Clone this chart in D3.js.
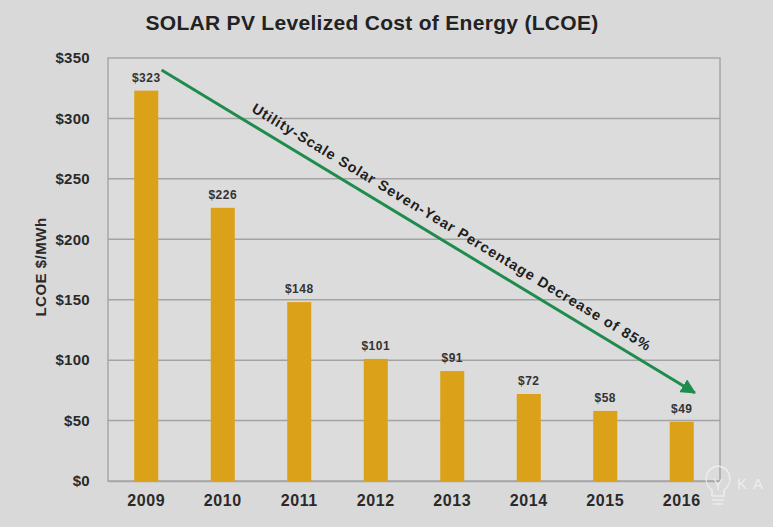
<!DOCTYPE html>
<html><head><meta charset="utf-8">
<script src="https://cdn.jsdelivr.net/npm/d3@7"></script>
<style>
html,body{margin:0;padding:0;background:#d9d9d9;}
svg{display:block;font-family:Arial,"Liberation Sans",Helvetica,sans-serif;}
</style></head>
<body>
<script>
const years = ["2009","2010","2011","2012","2013","2014","2015","2016"];
const lcoe = [323, 226, 148, 101, 91, 72, 58, 49];
const yTicks = [0, 50, 100, 150, 200, 250, 300, 350];
const title = "SOLAR PV Levelized Cost of Energy (LCOE)";
const yTitle = "LCOE $/MWh";
const arrowLabel = "Utility-Scale Solar Seven-Year Percentage Decrease of 85%";
// arrow endpoints in (band-index, value) units
const arrowFrom = [0.70, 340];
const arrowTo = [7.67, 73];

const W = 773, H = 527;
const m = {left:108, right:53, top:58, bottom:46};
const svg = d3.select("body").append("svg").attr("width", W).attr("height", H);
svg.append("rect").attr("width", W).attr("height", H).attr("fill", "#d9d9d9");

const x = d3.scaleBand().domain(years).range([m.left, W - m.right]).paddingInner(0.686).paddingOuter(0.343);
const y = d3.scaleLinear().domain([0, 350]).range([H - m.bottom, m.top]);
const xi = d3.scaleLinear().domain([0, years.length]).range([m.left, W - m.right]);

// plot bg
svg.append("rect").attr("x", m.left).attr("y", m.top)
  .attr("width", W - m.left - m.right).attr("height", H - m.top - m.bottom)
  .attr("fill", "#dcdcdc").attr("stroke", "#a6a6a6").attr("stroke-width", 1.5);

// gridlines
svg.append("g").selectAll("line").data(yTicks.filter(d => d > 0 && d < 350)).join("line")
  .attr("x1", m.left).attr("x2", W - m.right)
  .attr("y1", d => y(d)).attr("y2", d => y(d))
  .attr("stroke", "#a3a3a3").attr("stroke-width", 1.5);

// y axis
const yAxis = svg.append("g").attr("transform", `translate(${m.left},0)`)
  .call(d3.axisLeft(y).tickValues(yTicks).tickFormat(d => "$" + d).tickSize(0).tickPadding(18));
yAxis.select(".domain").remove();
yAxis.selectAll("text").attr("font-size", 15).attr("font-weight", "bold").attr("fill", "#2a2a2a")
  .attr("letter-spacing", 0.3).attr("font-family", "Arial, Liberation Sans, sans-serif");

// x axis
const xAxis = svg.append("g").attr("transform", `translate(0,${H - m.bottom})`)
  .call(d3.axisBottom(x).tickSize(0).tickPadding(14));
xAxis.select(".domain").attr("stroke", "#a6a6a6").attr("stroke-width", 1.5);
xAxis.selectAll("text").attr("font-size", 16).attr("font-weight", "bold").attr("fill", "#2a2a2a")
  .attr("letter-spacing", 0.6).attr("font-family", "Arial, Liberation Sans, sans-serif");

// bars
const data = years.map((yr, i) => ({yr, v: lcoe[i]}));
svg.append("g").selectAll("rect").data(data).join("rect")
  .attr("x", d => x(d.yr)).attr("width", x.bandwidth())
  .attr("y", d => y(d.v)).attr("height", d => y(0) - y(d.v))
  .attr("fill", "#dba118");

svg.append("g").selectAll("text").data(data).join("text")
  .attr("x", d => x(d.yr) + x.bandwidth() / 2).attr("y", d => y(d.v) - 9)
  .attr("text-anchor", "middle").attr("font-size", 12).attr("font-weight", "bold")
  .attr("letter-spacing", 0.5).attr("fill", "#333").text(d => "$" + d.v);

// title
svg.append("text").attr("x", 372).attr("y", 30).attr("text-anchor", "middle")
  .attr("font-size", 21).attr("font-weight", "bold").attr("letter-spacing", 0.3)
  .attr("fill", "#222").text(title);

// y title
svg.append("text").attr("transform", `translate(46,267) rotate(-90)`)
  .attr("text-anchor", "middle").attr("font-size", 15).attr("font-weight", "bold")
  .attr("letter-spacing", 0.5).attr("fill", "#2a2a2a").text(yTitle);

// arrow
const defs = svg.append("defs");
defs.append("marker").attr("id", "ah").attr("viewBox", "0 0 10 10").attr("refX", 9).attr("refY", 5)
  .attr("markerWidth", 5).attr("markerHeight", 5).attr("orient", "auto")
  .append("path").attr("d", "M0,0 L10,5 L0,10 z").attr("fill", "#1f8c4e");
const x1 = xi(arrowFrom[0]), y1 = y(arrowFrom[1]), x2 = xi(arrowTo[0]), y2 = y(arrowTo[1]);
svg.append("line").attr("x1", x1).attr("y1", y1).attr("x2", x2).attr("y2", y2)
  .attr("stroke", "#1f8c4e").attr("stroke-width", 3).attr("marker-end", "url(#ah)");

const ang = Math.atan2(y2 - y1, x2 - x1) * 180 / Math.PI;
const mx = 444, my = 240;
svg.append("text").attr("transform", `translate(${mx},${my}) rotate(${ang}) translate(0,-10)`)
  .attr("text-anchor", "middle").attr("font-size", 14.5).attr("font-weight", "bold")
  .attr("letter-spacing", 1).attr("fill", "#1e1e1e").text(arrowLabel);

// watermark
const wm = svg.append("g").attr("opacity", 0.75).attr("fill", "none").attr("stroke", "#f4f4f4").attr("stroke-width", 1.5);
wm.append("path").attr("d", "M712,490 C703,484 704,468 718,466 C732,468 733,484 724,490 L724,496 L712,496 Z");
wm.append("line").attr("x1", 712).attr("x2", 724).attr("y1", 500).attr("y2", 500);
wm.append("line").attr("x1", 713).attr("x2", 723).attr("y1", 504).attr("y2", 504);
wm.append("path").attr("d", "M714,479 L718,485 L722,479 M718,485 L718,490");
svg.append("text").attr("x", 737).attr("y", 489).attr("font-size", 15).attr("fill", "#f2f2f2")
  .attr("opacity", 0.85).attr("letter-spacing", 6).text("KA");
</script>
</body></html>
